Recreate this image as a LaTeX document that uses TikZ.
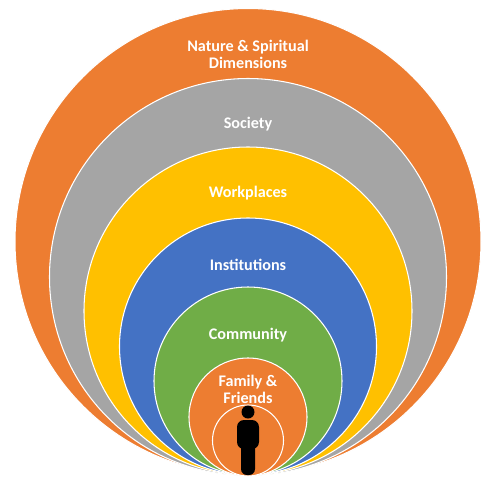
\documentclass[tikz,border=0pt]{standalone}
\usepackage{fontspec}
\setmainfont{Carlito}
\definecolor{ringorange}{HTML}{ED7D31}
\definecolor{ringgray}{HTML}{A5A5A5}
\definecolor{ringyellow}{HTML}{FFC000}
\definecolor{ringblue}{HTML}{4472C4}
\definecolor{ringgreen}{HTML}{70AD47}
\tikzset{
    ring/.style={draw=white, line width=0.6pt},
    ringlabel/.style={text=white, font=\fontsize{9.2}{9.8}\selectfont\bfseries, align=center, inner sep=0pt}
}
\begin{document}
\begin{tikzpicture}[x=0.02cm, y=-0.02cm]
\useasboundingbox (0,0) rectangle (498,488);
% Circles, largest first
\foreach \cy/\r/\col in {241.5/233/ringorange, 277/198.5/ringgray, 311/164/ringyellow, 346.5/128.5/ringblue, 381/94/ringgreen, 417/59/ringorange, 440.5/35.5/ringorange} {
    \fill[\col] (248,\cy) circle [radius=\r];
    \draw[ring] (248,\cy) circle [radius=\r];
}
% Person
\fill[black] (248,412) circle [radius=6.5];
\fill[black, rounded corners=0.14cm] (237,420) rectangle (259,449);
\fill[black, rounded corners=0.12cm] (241,440) rectangle (255,475);
% Labels
\node[ringlabel] (nature) at (248,54) {Nature \& Spiritual\\Dimensions};
\node[ringlabel] (society) at (248,124) {Society};
\node[ringlabel] (workplaces) at (248,193) {Workplaces};
\node[ringlabel] (institutions) at (248,265) {Institutions};
\node[ringlabel] (community) at (248,335) {Community};
\node[ringlabel] (family) at (248,389.5) {Family \&\\Friends};
\end{tikzpicture}
\end{document}
